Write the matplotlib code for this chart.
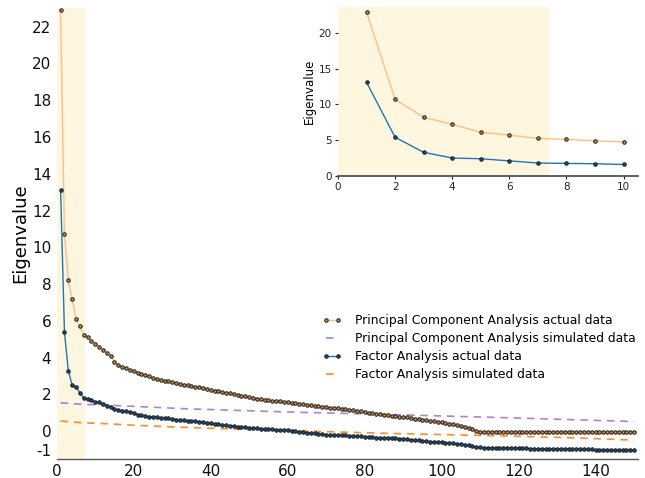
import numpy as np
import matplotlib
matplotlib.use('Agg')
import matplotlib.pyplot as plt

plt.rcParams['axes.unicode_minus'] = False

# -------------------------------------------------------- #
#                   Data                 #
# -------------------------------------------------------- #

pca_actual = [
    22.9, 10.7, 8.2, 7.2, 6.1, 5.7, 5.25, 5.1, 4.9, 4.75,
    4.6, 4.43, 4.25, 4.07, 3.76, 3.58, 3.49, 3.43, 3.34, 3.25,
    3.19, 3.12, 3.07, 2.98, 2.89, 2.82, 2.77, 2.75, 2.71, 2.67,
    2.62, 2.58, 2.54, 2.50, 2.46, 2.42, 2.38, 2.34, 2.29, 2.25,
    2.21, 2.18, 2.14, 2.10, 2.06, 2.02, 1.98, 1.94, 1.90, 1.86,
    1.82, 1.78, 1.75, 1.72, 1.70, 1.67, 1.65, 1.63, 1.61, 1.59,
    1.56, 1.53, 1.50, 1.47, 1.44, 1.41, 1.39, 1.36, 1.34, 1.31,
    1.29, 1.26, 1.24, 1.21, 1.19, 1.17, 1.14, 1.11, 1.08, 1.05,
    1.02, 0.99, 0.96, 0.93, 0.90, 0.87, 0.84, 0.81, 0.79, 0.77,
    0.75, 0.72, 0.69, 0.66, 0.63, 0.60, 0.57, 0.54, 0.51, 0.48,
    0.45, 0.41, 0.37, 0.33, 0.29, 0.24, 0.17, 0.10, 0.03, -0.02,
    -0.03, -0.03, -0.03, -0.03, -0.03, -0.03, -0.03, -0.03, -0.03, -0.03,
    -0.03, -0.03, -0.03, -0.03, -0.03, -0.03, -0.03, -0.03, -0.03, -0.03,
    -0.03, -0.03, -0.03, -0.03, -0.03, -0.03, -0.03, -0.03, -0.03, -0.03,
    -0.03, -0.03, -0.03, -0.03, -0.03, -0.03, -0.03, -0.03, -0.03, -0.03,
]

fa_actual = [
    13.1, 5.4, 3.3, 2.5, 2.4, 2.1, 1.8, 1.75, 1.7, 1.6,
    1.57, 1.50, 1.40, 1.33, 1.22, 1.16, 1.12, 1.08, 1.04, 0.98,
    0.91, 0.87, 0.83, 0.80, 0.78, 0.76, 0.74, 0.72, 0.70, 0.67,
    0.64, 0.62, 0.60, 0.58, 0.56, 0.54, 0.51, 0.48, 0.45, 0.43,
    0.40, 0.38, 0.35, 0.32, 0.29, 0.27, 0.25, 0.23, 0.21, 0.19,
    0.17, 0.16, 0.15, 0.13, 0.12, 0.10, 0.09, 0.08, 0.07, 0.05,
    0.02, -0.01, -0.04, -0.06, -0.08, -0.10, -0.12, -0.14, -0.16, -0.18,
    -0.19, -0.20, -0.21, -0.22, -0.22, -0.23, -0.25, -0.27, -0.28, -0.30,
    -0.31, -0.32, -0.34, -0.35, -0.36, -0.37, -0.38, -0.39, -0.40, -0.42,
    -0.44, -0.46, -0.48, -0.50, -0.52, -0.54, -0.56, -0.57, -0.58, -0.59,
    -0.61, -0.63, -0.65, -0.67, -0.69, -0.72, -0.77, -0.82, -0.86, -0.88,
    -0.89, -0.89, -0.90, -0.90, -0.90, -0.91, -0.91, -0.91, -0.92, -0.92,
    -0.93, -0.93, -0.94, -0.94, -0.95, -0.95, -0.95, -0.96, -0.96, -0.96,
    -0.97, -0.97, -0.97, -0.98, -0.98, -0.98, -0.99, -0.99, -0.99, -1.00,
    -1.00, -1.00, -1.00, -1.01, -1.01, -1.01, -1.01, -1.02, -1.02, -1.02,
]
components = np.arange(1, len(pca_actual) + 1)

# simulated (parallel analysis) curves, read at a few positions
pca_sim_x = [1, 7, 12, 34, 60, 90, 120, 150]
pca_sim_y = [1.55, 1.46, 1.43, 1.22, 1.05, 0.89, 0.72, 0.53]
fa_sim_x = [1, 7, 12, 20, 32, 45, 63, 89, 118, 135, 150]
fa_sim_y = [0.56, 0.46, 0.42, 0.33, 0.22, 0.13, 0.02, -0.13, -0.26, -0.36, -0.48]

n_retained = 7.4   # shaded region (retained factors)
n_inset = 10

labels = ['Principal Component Analysis actual data',
          'Principal Component Analysis simulated data',
          'Factor Analysis actual data',
          'Factor Analysis simulated data']

# -------------------------------------------------------- #
#                       Styling                            #
# -------------------------------------------------------- #

shade = '#fef6de'
pca_line = '#fdbf87'
pca_face = '#c98a4e'
fa_line = '#1f77b4'
fa_face = '#1f4e79'
pca_sim_col = '#a583d8'
fa_sim_col = '#ff8c2a'


def draw_curves(ax, n=None, ms=2.5, sims=True):
    k = len(pca_actual) if n is None else n
    ax.plot(components[:k], pca_actual[:k], color=pca_line, lw=1.0,
            marker='o', ms=ms, mfc=pca_face, mec='#1a1a1a', mew=0.7,
            label=labels[0], zorder=3)
    if sims:
        ax.plot(pca_sim_x, pca_sim_y, color=pca_sim_col, lw=1.2,
                ls=(0, (4.5, 3.5)), label=labels[1], zorder=2)
    ax.plot(components[:k], fa_actual[:k], color=fa_line, lw=1.0,
            marker='o', ms=ms, mfc=fa_face, mec='#1a1a1a', mew=0.7,
            label=labels[2], zorder=3)
    if sims:
        ax.plot(fa_sim_x, fa_sim_y, color=fa_sim_col, lw=1.2,
                ls=(0, (4.5, 3.5)), label=labels[3], zorder=2)


fig = plt.figure(figsize=(6.45, 4.78), dpi=100)

# ---------- Main axes ---------- #
ax = fig.add_axes([0.088, 0.040, 0.901, 0.943])
ax.axvspan(0, n_retained, color=shade, lw=0, zorder=0)
draw_curves(ax)
ax.set_xlim(0, 151)
ax.set_ylim(-1.5, 23)
ax.set_xticks(range(0, 141, 20))
ax.set_yticks([-1] + list(range(0, 23, 2)))
ax.tick_params(length=0, labelsize=11, colors='#111111', pad=4)
for s in ['top', 'right', 'left']:
    ax.spines[s].set_visible(False)
ax.spines['bottom'].set_color('#555555')
ax.spines['bottom'].set_linewidth(1.0)
ax.set_ylabel('Eigenvalue', fontsize=13, labelpad=2)

ax.legend(loc='upper right', bbox_to_anchor=(0.995, 0.355),
          bbox_transform=fig.transFigure, frameon=False, fontsize=8.9,
          numpoints=2, handlelength=1.6, handletextpad=1.05,
          labelspacing=0.4, borderpad=0.0)

# ---------- Inset ---------- #
axi = fig.add_axes([0.524, 0.632, 0.465, 0.353])
axi.axvspan(0, n_retained, color=shade, lw=0, zorder=0)
draw_curves(axi, n=n_inset, ms=2.5, sims=False)
axi.set_xlim(0, 10.5)
axi.set_ylim(0, 23.6)
axi.set_xticks(range(0, 11, 2))
axi.set_yticks(range(0, 21, 5))
axi.tick_params(length=2.5, width=0.8, labelsize=7.5, colors='#222222',
                direction='out', pad=2)
for s in ['top', 'right', 'left']:
    axi.spines[s].set_visible(False)
axi.spines['bottom'].set_color('#444444')
axi.spines['bottom'].set_linewidth(1.2)
axi.set_ylabel('Eigenvalue', fontsize=8.5, labelpad=2)

fig.savefig('out.png', dpi=100)
